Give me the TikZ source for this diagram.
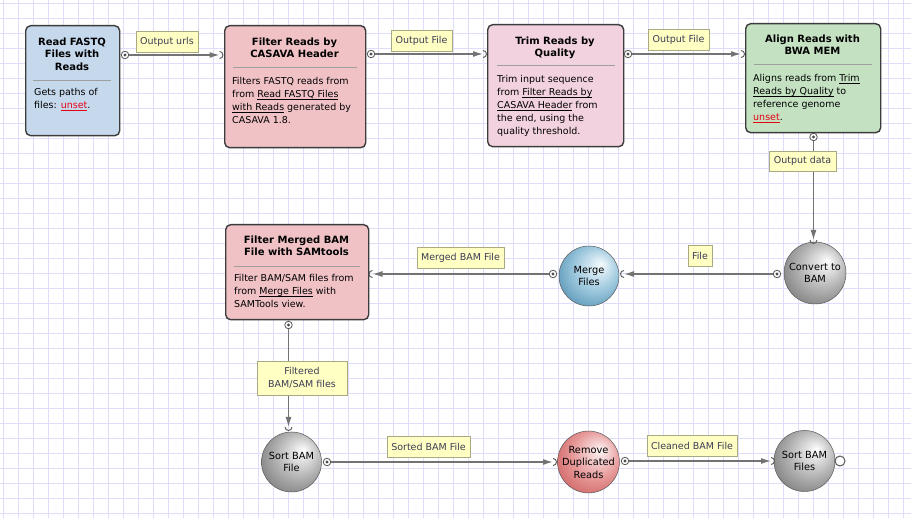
\documentclass[tikz,border=0pt]{standalone}
\usepackage{fontspec}
\setmainfont{DejaVu Sans}
\usetikzlibrary{arrows.meta}
\definecolor{gridc}{RGB}{222,222,250}
\definecolor{boxedge}{RGB}{60,60,60}
\definecolor{fqblue}{RGB}{198,217,236}
\definecolor{pinkA}{RGB}{240,194,198}
\definecolor{pinkB}{RGB}{242,210,222}
\definecolor{greenA}{RGB}{196,226,194}
\definecolor{labfill}{RGB}{255,255,196}
\definecolor{labedge}{RGB}{170,170,130}
\definecolor{labtext}{RGB}{60,60,85}
\definecolor{connc}{RGB}{115,115,115}
\definecolor{linkred}{RGB}{230,0,20}
\definecolor{gA}{RGB}{255,255,255}
\definecolor{gB}{RGB}{238,238,238}
\definecolor{gC}{RGB}{175,175,175}
\definecolor{gD}{RGB}{110,110,110}
\definecolor{bA}{RGB}{245,250,253}
\definecolor{bB}{RGB}{225,240,247}
\definecolor{bC}{RGB}{150,195,218}
\definecolor{bD}{RGB}{70,135,170}
\definecolor{rA}{RGB}{253,245,245}
\definecolor{rB}{RGB}{248,225,225}
\definecolor{rC}{RGB}{230,150,150}
\definecolor{rD}{RGB}{200,85,85}
\pgfdeclareradialshading{grayball}{\pgfqpoint{10bp}{10bp}}{color(0bp)=(gA); color(4bp)=(gB); color(20bp)=(gC); color(38bp)=(gD); color(50bp)=(gD)}
\pgfdeclareradialshading{blueball}{\pgfqpoint{10bp}{10bp}}{color(0bp)=(bA); color(4bp)=(bB); color(20bp)=(bC); color(38bp)=(bD); color(50bp)=(bD)}
\pgfdeclareradialshading{redball}{\pgfqpoint{10bp}{10bp}}{color(0bp)=(rA); color(4bp)=(rB); color(20bp)=(rC); color(38bp)=(rD); color(50bp)=(rD)}
\newsavebox\lnkbox
\newcommand\lnk[1]{\sbox\lnkbox{#1}\rlap{\rule[-1.8pt]{\wd\lnkbox}{0.6pt}}\usebox\lnkbox}
\newcommand\unsetlnk{\textcolor{linkred}{\lnk{unset}}}
\tikzset{
  stepbox/.style={draw=boxedge, line width=1.4pt, rounded corners=5pt, inner sep=0pt, anchor=north west},
  titletext/.style={font=\fontsize{10}{12.5}\selectfont\bfseries, align=center, inner sep=0pt, anchor=north},
  bodytext/.style={font=\fontsize{9.5}{13}\selectfont, align=left, inner sep=0pt, anchor=north west},
  sepline/.style={draw=gray!75, line width=0.8pt},
  lab/.style={draw=labedge, fill=labfill, text=labtext, inner sep=0pt, align=center, font=\fontsize{9.5}{12.5}\selectfont},
  conn/.style={draw=connc, line width=1.3pt, -{Latex[length=10pt,width=6pt]}},
  outport/.style={circle, draw=gray!70!black, fill=white, line width=0.8pt, minimum size=7.5pt, inner sep=0pt,
     path picture={\fill[black!70] (path picture bounding box.center) circle (1.6pt);}},
  openport/.style={circle, draw=gray!70!black, fill=white, line width=1pt, minimum size=10pt, inner sep=0pt},
  portarc/.style={draw=gray!70!black, line width=0.9pt},
  ballnode/.style={circle, draw=gray!70!black, line width=0.5pt, inner sep=0pt, align=center, font=\fontsize{9.8}{12.5}\selectfont}
}
\begin{document}
\begin{tikzpicture}[x=1pt,y=-1pt]
\useasboundingbox (0,0) rectangle (911,518);
\fill[white] (0,0) rectangle (911,518);
\foreach \g in {3.3,18.3,...,911} {\draw[gridc, line width=0.8pt] (\g,0) -- (\g,518);}
\foreach \g in {3.3,18.3,...,518} {\draw[gridc, line width=0.8pt] (0,\g) -- (911,\g);}

% ---- boxes
\node[stepbox, fill=fqblue, minimum width=94pt, minimum height=110pt] (b1) at (25,25) {};
\node[titletext] (t1) at (72,37.5) {Read FASTQ\\Files with\\Reads};
\draw[sepline] (33,80) -- (111,80);
\node[bodytext] (d1) at (34,88) {Gets paths of\\files: \unsetlnk.};

\node[stepbox, fill=pinkA, minimum width=141pt, minimum height=122pt] (b2) at (224,25) {};
\node[titletext] (t2) at (294.5,37.5) {Filter Reads by\\CASAVA Header};
\draw[sepline] (233,67) -- (357,67);
\node[bodytext] (d2) at (232,77) {Filters FASTQ reads from\\from \lnk{Read FASTQ Files}\\\lnk{with Reads} generated by\\CASAVA 1.8.};

\node[stepbox, fill=pinkB, minimum width=136pt, minimum height=122pt] (b3) at (487,24) {};
\node[titletext] (t3) at (555,36.5) {Trim Reads by\\Quality};
\draw[sepline] (497,65) -- (615,65);
\node[bodytext] (d3) at (497,75) {Trim input sequence\\from \lnk{Filter Reads by}\\\lnk{CASAVA Header} from\\the end, using the\\quality threshold.};

\node[stepbox, fill=greenA, minimum width=135pt, minimum height=109pt] (b4) at (745,23) {};
\node[titletext] (t4) at (812.5,34.5) {Align Reads with\\BWA MEM};
\draw[sepline] (754,64) -- (872,64);
\node[bodytext] (d4) at (753,74) {Aligns reads from \lnk{Trim}\\\lnk{Reads by Quality} to\\reference genome\\\unsetlnk.};

\node[stepbox, fill=pinkA, minimum width=143pt, minimum height=95pt] (b5) at (225,224) {};
\node[titletext] (t5) at (296.5,235.5) {Filter Merged BAM\\File with SAMtools};
\draw[sepline] (234,266) -- (360,266);
\node[bodytext] (d5) at (234,274) {Filter BAM/SAM files from\\from \lnk{Merge Files} with\\SAMTools view.};

% ---- circles
\node[ballnode, shading=grayball, minimum size=62pt] (c1) at (815,273) {Convert to\\BAM};
\node[ballnode, shading=blueball, minimum size=60pt] (c2) at (589,276) {Merge\\Files};
\node[ballnode, shading=grayball, minimum size=60pt] (c3) at (291.5,462) {Sort BAM\\File};
\node[ballnode, shading=redball, minimum size=60pt] (c4) at (588.5,462) {Remove\\Duplicated\\Reads};
\node[ballnode, shading=grayball, minimum size=61pt] (c5) at (804.5,461) {Sort BAM\\Files};

% ---- ports
\node[outport] (o1) at (125,55) {};
\node[outport] (o2) at (371,54) {};
\node[outport] (o3) at (628,54) {};
\node[outport] (o4) at (813.5,137) {};
\node[outport] (o5) at (777,274) {};
\node[outport] (o6) at (553,274) {};
\node[outport] (o7) at (288.5,325) {};
\node[outport] (o8) at (327,462) {};
\node[outport] (o9) at (625,461) {};
\node[openport] (o10) at (840,461) {};

\coordinate (i2) at (219.5,55);
\coordinate (i3) at (483,54);
\coordinate (i4) at (741,54);
\coordinate (i5) at (813.5,240);
\coordinate (i6) at (624,274);
\coordinate (i7) at (372.5,274);
\coordinate (i8) at (288.5,427);
\coordinate (i9) at (553,462);
\coordinate (i10) at (771,461);

% ---- connectors
\draw[conn] (o1) -- (i2);
\draw[conn] (o2) -- (i3);
\draw[conn] (o3) -- (i4);
\draw[conn] (o4) -- (i5);
\draw[conn] (o5) -- (i6);
\draw[conn] (o6) -- (i7);
\draw[conn] (o7) -- (i8);
\draw[conn] (o8) -- (i9);
\draw[conn] (o9) -- (i10);

% ---- input port arcs
\draw[portarc] (i2) ++(0,-3.5) arc[start angle=-90, end angle=90, radius=3.5];
\draw[portarc] (i3) ++(0,-3.5) arc[start angle=-90, end angle=90, radius=3.5];
\draw[portarc] (i4) ++(0,-3.5) arc[start angle=-90, end angle=90, radius=3.5];
\draw[portarc] (i9) ++(0,-3.5) arc[start angle=-90, end angle=90, radius=3.5];
\draw[portarc] (i10) ++(0,-3.5) arc[start angle=-90, end angle=90, radius=3.5];
\draw[portarc] (i6) ++(0,3.5) arc[start angle=90, end angle=270, radius=3.5];
\draw[portarc] (i7) ++(0,3.5) arc[start angle=90, end angle=270, radius=3.5];
\draw[portarc] (i5) ++(3.5,0) arc[start angle=0, end angle=180, radius=3.5];
\draw[portarc] (i8) ++(3.5,0) arc[start angle=0, end angle=180, radius=3.5];

% ---- labels
\node[lab, minimum width=62pt, minimum height=21pt] (l1) at (167,41.5) {Output urls};
\node[lab, minimum width=61pt, minimum height=21pt] (l2) at (421.5,40.5) {Output File};
\node[lab, minimum width=61pt, minimum height=21pt] (l3) at (678.5,39.5) {Output File};
\node[lab, minimum width=67pt, minimum height=20pt] (l4) at (802.5,161) {Output data};
\node[lab, minimum width=24pt, minimum height=21pt] (l5) at (700,255.5) {File};
\node[lab, minimum width=87pt, minimum height=21pt] (l6) at (460.5,257.5) {Merged BAM File};
\node[lab, minimum width=90pt, minimum height=34pt] (l7) at (302,378) {Filtered\\BAM/SAM files};
\node[lab, minimum width=83pt, minimum height=21pt] (l8) at (428.5,446.5) {Sorted BAM File};
\node[lab, minimum width=90pt, minimum height=21pt] (l9) at (692,445.5) {Cleaned BAM File};
\end{tikzpicture}
\end{document}
